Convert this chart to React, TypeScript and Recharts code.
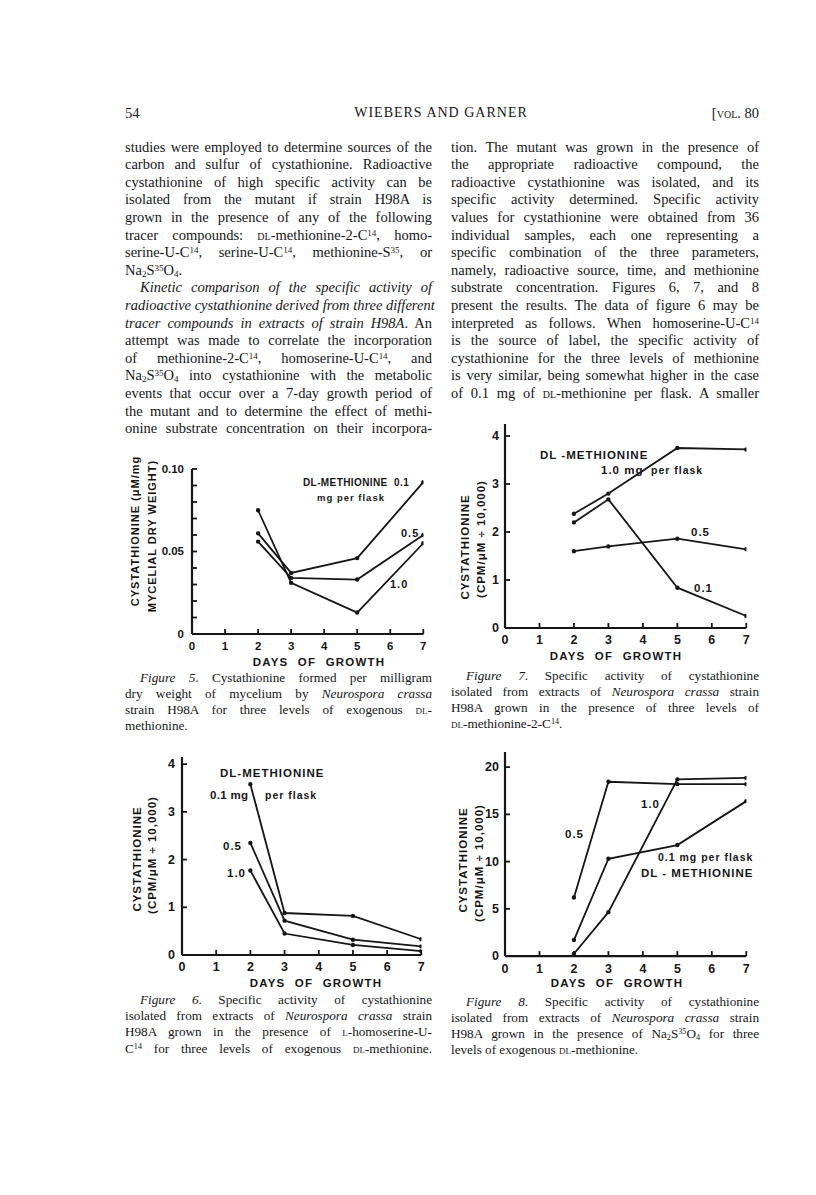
import React from 'react';
import { LineChart, Line, XAxis, YAxis } from 'recharts';

const INK = '#161616';
const SERIF = '"Liberation Serif", "Times New Roman", serif';
const SANS = '"Liberation Sans", Arial, sans-serif';

// days of growth sampled
const days = [2, 3, 5, 7];
const dayTicks = [0, 1, 2, 3, 4, 5, 6, 7];

// Figure 5 - cystathionine (uM / mg mycelial dry weight)
const fig5Ticks = [0, 0.01, 0.02, 0.03, 0.04, 0.05, 0.06, 0.07, 0.08, 0.09, 0.1];
const fig5Labelled = [0, 0.05, 0.1];
const fig5Met01 = [0.061, 0.037, 0.046, 0.092];
const fig5Met05 = [0.056, 0.034, 0.033, 0.06];
const fig5Met10 = [0.075, 0.031, 0.013, 0.055];

// Figure 6 - L-homoserine-U-C14
const fig6Ticks = [0, 1, 2, 3, 4];
const fig6Met01 = [3.58, 0.88, 0.82, 0.33];
const fig6Met05 = [2.35, 0.72, 0.32, 0.18];
const fig6Met10 = [1.77, 0.45, 0.21, 0.08];

// Figure 7 - DL-methionine-2-C14
const fig7Ticks = [0, 1, 2, 3, 4];
const fig7Met01 = [2.2, 2.68, 0.84, 0.25];
const fig7Met05 = [1.6, 1.7, 1.86, 1.64];
const fig7Met10 = [2.38, 2.8, 3.75, 3.72];

// Figure 8 - Na2S35O4
const fig8Ticks = [0, 5, 10, 15, 20];
const fig8Met01 = [1.7, 10.3, 11.75, 16.4];
const fig8Met05 = [6.2, 18.45, 18.2, 18.2];
const fig8Met10 = [0.25, 4.65, 18.7, 18.86];

const toPoints = (vals: number[]) => days.map((day, i) => ({ day, v: vals[i] }));

const ML = 48;
const MT = 12;
const MR = 16;
const XH = 34;

const XTick = (p: any) => (
  <g>
    {p.payload.value > 0 && (
      <line x1={p.x} y1={p.y} x2={p.x} y2={p.y - 5} stroke={INK} strokeWidth={1.8} />
    )}
    <text x={p.x} y={p.y + 12.5} textAnchor="middle" dominantBaseline="central"
      fontFamily={SANS} fontWeight={700} fontSize={p.fs} fill={INK}>
      {p.payload.value}
    </text>
  </g>
);

const YTick = (p: any) => {
  const v = p.payload.value;
  const show = p.labelled ? p.labelled.some((l: number) => Math.abs(l - v) < 1e-9) : true;
  return (
    <g>
      {v > 0 && <line x1={p.x} y1={p.y} x2={p.x + 5} y2={p.y} stroke={INK} strokeWidth={1.8} />}
      {show && (
        <text x={p.x - p.gap} y={p.y} textAnchor="end" dominantBaseline="central"
          fontFamily={SANS} fontWeight={700} fontSize={p.fs} fill={INK}>
          {p.fmt ? p.fmt(v) : v}
        </text>
      )}
    </g>
  );
};

function Panel(props: any) {
  const { left, top, w, h, yMax, yTicks, labelled, fmt, gap, series, fs = 12.5 } = props;
  return (
    <div style={{ position: 'absolute', left: left - ML, top: top - MT }}>
      <LineChart width={ML + w + MR} height={MT + h + XH}
        margin={{ top: MT, right: MR, bottom: 0, left: 0 }}>
        <XAxis type="number" dataKey="day" domain={[0, 7]} ticks={dayTicks} interval={0}
          allowDataOverflow height={XH} tickLine={false} tickSize={0} tickMargin={0}
          axisLine={{ stroke: INK, strokeWidth: 2.2 }} tick={(p: any) => <XTick {...p} fs={fs} />} />
        <YAxis type="number" domain={[0, yMax]} ticks={yTicks} interval={0} allowDataOverflow
          width={ML} tickLine={false} tickSize={0} tickMargin={0}
          axisLine={{ stroke: INK, strokeWidth: 2.2 }}
          tick={(p: any) => <YTick {...p} labelled={labelled} fmt={fmt} gap={gap} fs={fs} />} />
        {series.map((s: number[], i: number) => (
          <Line key={i} data={toPoints(s)} dataKey="v" type="linear" stroke={INK}
            strokeWidth={1.8} dot={{ r: 1.3, fill: INK, stroke: INK }}
            isAnimationActive={false} />
        ))}
      </LineChart>
    </div>
  );
}

const Ann = ({ x, cy, children, size = 11.5, ls = 1 }: any) => (
  <div style={{
    position: 'absolute', left: x, top: cy - 8, height: 16, lineHeight: '16px',
    fontFamily: SANS, fontWeight: 700, fontSize: size, letterSpacing: ls,
    whiteSpace: 'nowrap', color: INK,
  }}>{children}</div>
);

const VTitle = ({ cx, cy, children, size = 11.5 }: any) => (
  <div style={{
    position: 'absolute', left: cx, top: cy, transform: 'translate(-50%, -50%) rotate(-90deg)',
    fontFamily: SANS, fontWeight: 700, fontSize: size, letterSpacing: 1,
    whiteSpace: 'nowrap', color: INK, lineHeight: '14px',
  }}>{children}</div>
);

const XTitle = ({ cx, cy }: any) => (
  <div style={{
    position: 'absolute', left: cx, top: cy, transform: 'translate(-50%, -50%)',
    fontFamily: SANS, fontWeight: 700, fontSize: 11.5, letterSpacing: 1.2, wordSpacing: 5,
    whiteSpace: 'nowrap', color: INK, lineHeight: '14px',
  }}>DAYS OF GROWTH</div>
);

const sc = (t: string) => <span style={{ fontVariant: 'small-caps' }}>{t}</span>;
const sup = (t: string) => <span style={{ fontSize: '0.62em', verticalAlign: '0.5em', lineHeight: 0 }}>{t}</span>;
const sub = (t: string) => <span style={{ fontSize: '0.62em', verticalAlign: '-0.2em', lineHeight: 0 }}>{t}</span>;
const it = (t: string) => <i>{t}</i>;
const sulfate = <>Na{sub('2')}S{sup('35')}O{sub('4')}</>;

const leftCol: [React.ReactNode, boolean, number][] = [
  [<>studies were employed to determine sources of the</>, true, 0],
  [<>carbon and sulfur of cystathionine. Radioactive</>, true, 0],
  [<>cystathionine of high specific activity can be</>, true, 0],
  [<>isolated from the mutant if strain H98A is</>, true, 0],
  [<>grown in the presence of any of the following</>, true, 0],
  [<>tracer compounds: {sc('dl')}-methionine-2-C{sup('14')}, homo-</>, true, 0],
  [<>serine-U-C{sup('14')}, serine-U-C{sup('14')}, methionine-S{sup('35')}, or</>, true, 0],
  [<>{sulfate}.</>, false, 0],
  [<>{it('Kinetic comparison of the specific activity of')}</>, true, 15],
  [<>{it('radioactive cystathionine derived from three different')}</>, true, 0],
  [<>{it('tracer compounds in extracts of strain H98A')}. An</>, true, 0],
  [<>attempt was made to correlate the incorporation</>, true, 0],
  [<>of methionine-2-C{sup('14')}, homoserine-U-C{sup('14')}, and</>, true, 0],
  [<>{sulfate} into cystathionine with the metabolic</>, true, 0],
  [<>events that occur over a 7-day growth period of</>, true, 0],
  [<>the mutant and to determine the effect of methi-</>, true, 0],
  [<>onine substrate concentration on their incorpora-</>, true, 0],
];

const rightCol: [React.ReactNode, boolean, number][] = [
  [<>tion. The mutant was grown in the presence of</>, true, 0],
  [<>the appropriate radioactive compound, the</>, true, 0],
  [<>radioactive cystathionine was isolated, and its</>, true, 0],
  [<>specific activity determined. Specific activity</>, true, 0],
  [<>values for cystathionine were obtained from 36</>, true, 0],
  [<>individual samples, each one representing a</>, true, 0],
  [<>specific combination of the three parameters,</>, true, 0],
  [<>namely, radioactive source, time, and methionine</>, true, 0],
  [<>substrate concentration. Figures 6, 7, and 8</>, true, 0],
  [<>present the results. The data of figure 6 may be</>, true, 0],
  [<>interpreted as follows. When homoserine-U-C{sup('14')}</>, true, 0],
  [<>is the source of label, the specific activity of</>, true, 0],
  [<>cystathionine for the three levels of methionine</>, true, 0],
  [<>is very similar, being somewhat higher in the case</>, true, 0],
  [<>of 0.1 mg of {sc('dl')}-methionine per flask. A smaller</>, true, 0],
];

const cap = (n: number) => <>{it('Figure')} {it(String(n))}.</>;
const nc = it('Neurospora crassa');

const fig5Caption: [React.ReactNode, boolean, number][] = [
  [<>{cap(5)} Cystathionine formed per milligram</>, true, 15],
  [<>dry weight of mycelium by {nc}</>, true, 0],
  [<>strain H98A for three levels of exogenous {sc('dl')}-</>, true, 0],
  [<>methionine.</>, false, 0],
];
const fig6Caption: [React.ReactNode, boolean, number][] = [
  [<>{cap(6)} Specific activity of cystathionine</>, true, 15],
  [<>isolated from extracts of {nc} strain</>, true, 0],
  [<>H98A grown in the presence of {sc('l')}-homoserine-U-</>, true, 0],
  [<>C{sup('14')} for three levels of exogenous {sc('dl')}-methionine.</>, true, 0],
];
const fig7Caption: [React.ReactNode, boolean, number][] = [
  [<>{cap(7)} Specific activity of cystathionine</>, true, 15],
  [<>isolated from extracts of {nc} strain</>, true, 0],
  [<>H98A grown in the presence of three levels of</>, true, 0],
  [<>{sc('dl')}-methionine-2-C{sup('14')}.</>, false, 0],
];
const fig8Caption: [React.ReactNode, boolean, number][] = [
  [<>{cap(8)} Specific activity of cystathionine</>, true, 15],
  [<>isolated from extracts of {nc} strain</>, true, 0],
  [<>H98A grown in the presence of {sulfate} for three</>, true, 0],
  [<>levels of exogenous {sc('dl')}-methionine.</>, false, 0],
];

function TextBlock({ lines, left, width, firstCy, step, size }: any) {
  return (
    <>
      {lines.map(([content, just, indent]: any, i: number) => (
        <div key={i} style={{
          position: 'absolute', left: left + indent, width: width - indent,
          top: firstCy + i * step - step / 2, height: step, lineHeight: step + 'px',
          fontSize: size, whiteSpace: 'nowrap',
          textAlign: just ? 'justify' : 'left', textAlignLast: just ? 'justify' : 'left',
        }}>{content}</div>
      ))}
    </>
  );
}

export default function App() {
  return (
    <div style={{
      position: 'absolute', left: 0, top: 0, width: 816, height: 1195, background: '#fff',
      overflow: 'hidden', fontFamily: SERIF, color: INK,
    }}>
      {/* running head */}
      <div style={{ position: 'absolute', left: 125, top: 104, fontSize: 14.5, lineHeight: '18px' }}>54</div>
      <div style={{ position: 'absolute', left: 441, top: 104, transform: 'translateX(-50%)', fontSize: 14, letterSpacing: 1, lineHeight: '18px', whiteSpace: 'nowrap' }}>WIEBERS AND GARNER</div>
      <div style={{ position: 'absolute', right: 816 - 759, top: 104, fontSize: 14.5, lineHeight: '18px', whiteSpace: 'nowrap' }}>[{sc('vol.')} 80</div>

      <TextBlock lines={leftCol} left={125} width={307} firstCy={147.3} step={17.6} size={14.5} />
      <TextBlock lines={rightCol} left={451} width={308} firstCy={147.3} step={17.6} size={14.5} />

      {/* Figure 5 */}
      <Panel left={191.7} top={469} w={231.3} h={165} yMax={0.1} yTicks={fig5Ticks} fs={11.5}
        labelled={fig5Labelled} gap={8} fmt={(v: number) => (v === 0 ? '0' : v.toFixed(2))}
        series={[fig5Met01, fig5Met05, fig5Met10]} />
      <Ann x={303} cy={483} size={10} ls={0.4}>DL-METHIONINE&nbsp;&nbsp;0.1</Ann>
      <Ann x={317} cy={498} size={9.5} ls={1}>mg per flask</Ann>
      <Ann x={401} cy={533} size={11}>0.5</Ann>
      <Ann x={390} cy={584} size={11}>1.0</Ann>
      <VTitle cx={135} cy={531} size={11}>CYSTATHIONINE (μM/mg</VTitle>
      <VTitle cx={152} cy={536} size={11}>MYCELIAL DRY WEIGHT)</VTitle>
      <XTitle cx={319} cy={661.5} />
      <TextBlock lines={fig5Caption} left={125} width={307} firstCy={678} step={16} size={13.2} />

      {/* Figure 6 */}
      <Panel left={181.7} top={756.8} w={239.3} h={198} yMax={4.15} yTicks={fig6Ticks}
        gap={7} series={[fig6Met01, fig6Met05, fig6Met10]} />
      <Ann x={220} cy={773}>DL-METHIONINE</Ann>
      <Ann x={210} cy={795} ls={0.3}>0.1 mg</Ann>
      <Ann x={265} cy={795} size={10.5}>per flask</Ann>
      <Ann x={223} cy={845.5}>0.5</Ann>
      <Ann x={227} cy={872.5}>1.0</Ann>
      <VTitle cx={137} cy={859}>CYSTATHIONINE</VTitle>
      <VTitle cx={152} cy={855}>(CPM/μM ÷ 10,000)</VTitle>
      <XTitle cx={316} cy={982.5} />
      <TextBlock lines={fig6Caption} left={125} width={307} firstCy={1000} step={16.2} size={13.2} />

      {/* Figure 7 */}
      <Panel left={504.7} top={424} w={241.3} h={204} yMax={4.25} yTicks={fig7Ticks}
        gap={6} series={[fig7Met01, fig7Met05, fig7Met10]} />
      <Ann x={540} cy={455}>DL -METHIONINE</Ann>
      <Ann x={601} cy={470}>1.0 mg</Ann>
      <Ann x={651} cy={470} size={10.5}>per flask</Ann>
      <Ann x={691} cy={532}>0.5</Ann>
      <Ann x={694} cy={587.5}>0.1</Ann>
      <VTitle cx={465} cy={547}>CYSTATHIONINE</VTitle>
      <VTitle cx={481} cy={539}>(CPM/μM ÷ 10,000)</VTitle>
      <XTitle cx={616} cy={656} />
      <TextBlock lines={fig7Caption} left={451} width={308} firstCy={676} step={16} size={13.2} />

      {/* Figure 8 */}
      <Panel left={504.7} top={751.9} w={241.3} h={204.1} yMax={21.6} yTicks={fig8Ticks}
        gap={6} series={[fig8Met01, fig8Met05, fig8Met10]} />
      <Ann x={641} cy={804}>1.0</Ann>
      <Ann x={565} cy={834}>0.5</Ann>
      <Ann x={658} cy={857} size={10.5}>0.1 mg per flask</Ann>
      <Ann x={641} cy={873}>DL - METHIONINE</Ann>
      <VTitle cx={463} cy={860}>CYSTATHIONINE</VTitle>
      <VTitle cx={479} cy={863}>(CPM/μM ÷ 10,000)</VTitle>
      <XTitle cx={617} cy={983} />
      <TextBlock lines={fig8Caption} left={451} width={308} firstCy={1002} step={16} size={13.2} />
    </div>
  );
}
